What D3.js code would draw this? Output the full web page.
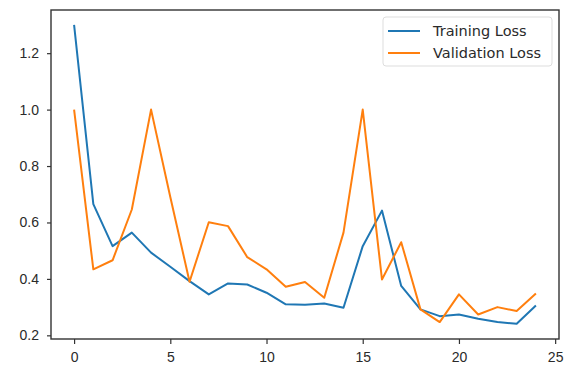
<!DOCTYPE html>
<html lang="en">
<head>
	<meta charset="UTF-8">
	<title>Loss</title>
	<script src="https://d3js.org/d3.v7.min.js"></script>
	<style>
		html,body{
			margin:0;
			padding:0;
			background:#fff;
		}
		svg{
			display:block;
			font-family:"DejaVu Sans",sans-serif;
		}
		.tick text{
			fill:#2a2a2a;
			font-size:14px;
		}
		.tick line{
			stroke:#333;
			stroke-width:1.2;
		}
	</style>
</head>
<body>
	<svg id="svg" width="581" height="367"></svg>
	<script>
		var epochs = d3.range(0,25)
		var trainLoss = [1.30,0.665,0.516,0.564,0.493,0.443,0.392,0.345,0.384,0.380,0.351,0.310,0.308,0.313,0.298,0.516,0.642,0.375,0.292,0.268,0.274,0.259,0.247,0.241,0.306]
		var valLoss = [1.00,0.434,0.466,0.646,1.00,0.690,0.390,0.601,0.587,0.477,0.434,0.372,0.389,0.333,0.564,1.00,0.398,0.530,0.292,0.247,0.345,0.274,0.300,0.286,0.348]
		var seriesNames = ["Training Loss","Validation Loss"]
		var colors = ["#1f77b4","#ff7f0e"]
		var xTicks = [0,5,10,15,20,25]
		var yTicks = [0.2,0.4,0.6,0.8,1.0,1.2]

		var svg = d3.select("#svg")
		var mLeft = 51, mTop = 10, mRight = 559, mBottom = 339

		var xScale = d3.scaleLinear()
			.domain([-1.2,25.2])
			.range([mLeft,mRight])
		var yScale = d3.scaleLinear()
			.domain([0.187,1.353])
			.range([mBottom,mTop])

		svg.append("g")
			.attr("transform","translate(0,"+mBottom+")")
			.call(d3.axisBottom(xScale).tickValues(xTicks).tickFormat(d3.format("d")).tickSize(5).tickPadding(8))
			.call(g=>g.select(".domain").remove())
		svg.append("g")
			.attr("transform","translate("+mLeft+",0)")
			.call(d3.axisLeft(yScale).tickValues(yTicks).tickFormat(d3.format(".1f")).tickSize(4).tickPadding(8))
			.call(g=>g.select(".domain").remove())

		var line = d3.line()
			.x((d,i)=>xScale(epochs[i]))
			.y(d=>yScale(d))

		;[trainLoss,valLoss].forEach((s,k)=>{
			svg.append("path")
				.datum(s)
				.attr("fill","none")
				.attr("stroke",colors[k])
				.attr("stroke-width",2)
				.attr("stroke-linejoin","round")
				.attr("d",line)
		})

		svg.append("rect")
			.attr("x",mLeft).attr("y",mTop)
			.attr("width",mRight-mLeft).attr("height",mBottom-mTop)
			.attr("fill","none")
			.attr("stroke","#333")
			.attr("stroke-width",1.4)

		// legend
		var lg = svg.append("g").attr("transform","translate(383,17)")
		lg.append("rect")
			.attr("width",169).attr("height",49).attr("rx",3)
			.attr("fill","#fff").attr("fill-opacity",0.8)
			.attr("stroke","#ddd")
		seriesNames.forEach((n,k)=>{
			var y = 14+k*22
			lg.append("line")
				.attr("x1",5).attr("x2",37).attr("y1",y).attr("y2",y)
				.attr("stroke",colors[k]).attr("stroke-width",2)
			lg.append("text")
				.attr("x",50).attr("y",y).attr("dy","0.35em")
				.attr("font-size",14.5).attr("fill","#2a2a2a")
				.text(n)
		})
	</script>
</body>
</html>
